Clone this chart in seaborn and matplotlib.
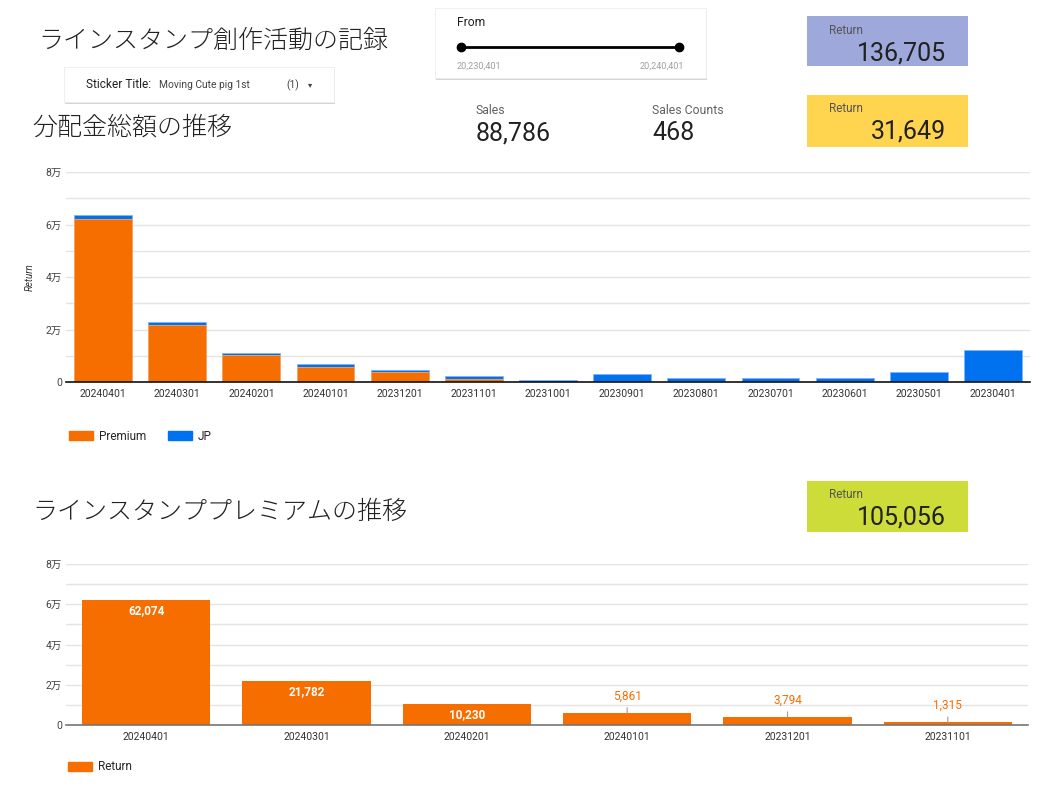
import matplotlib
matplotlib.use("Agg")
import pandas as pd
import matplotlib.pyplot as plt
import seaborn as sns
from matplotlib.patches import Rectangle, Patch
from matplotlib.lines import Line2D
from matplotlib.ticker import MultipleLocator, FuncFormatter

W, H = 1064, 789

# monthly distribution amounts
months = ["20240401", "20240301", "20240201", "20240101", "20231201", "20231101",
          "20231001", "20230901", "20230801", "20230701", "20230601", "20230501", "20230401"]
premium = [62074, 21782, 10230, 5861, 3794, 1315, 0, 0, 0, 0, 0, 0, 0]
jp = [1600, 1100, 1000, 1150, 650, 800, 950, 3000, 1700, 1700, 1700, 4000, 12299]

premium_months = months[:6]
premium_return = premium[:6]

# scorecards
total_return = "136,705"
jp_return = "31,649"
premium_total = "105,056"
sales = "88,786"
sales_counts = "468"
slider_from = "20,230,401"
slider_to = "20,240,401"
sticker_title = "Moving Cute pig 1st"

ORANGE = "#f66d00"
BLUE = "#0072f0"
GRID = "#e4e4e4"
TXT = "#212121"

sns.set_theme(style="white")
plt.rcParams["font.family"] = ["Roboto", "Noto Sans CJK JP", "DejaVu Sans"]
CJK = ["Noto Sans CJK JP", "DejaVu Sans"]


def fx(x):
    return x / W


def fy(y):
    return 1 - y / H


def box(fig, x0, y0, x1, y1, color, shadow=False):
    if shadow:
        fig.add_artist(Rectangle((fx(x0 + 1), fy(y1 + 2)), (x1 - x0) / W, (y1 - y0) / H,
                                 transform=fig.transFigure, facecolor="#d5d5d5",
                                 edgecolor="none", zorder=1))
        fig.add_artist(Rectangle((fx(x0), fy(y1)), (x1 - x0) / W, (y1 - y0) / H,
                                 transform=fig.transFigure, facecolor=color,
                                 edgecolor="#ececec", lw=0.6, zorder=2))
    else:
        fig.add_artist(Rectangle((fx(x0), fy(y1)), (x1 - x0) / W, (y1 - y0) / H,
                                 transform=fig.transFigure, facecolor=color,
                                 edgecolor="none", zorder=2))


def man_fmt(v, pos):
    return "0" if v == 0 else f"{int(v / 10000)}万"


def style_axis(ax, spine_color):
    ax.set_ylim(0, 80000)
    ax.yaxis.set_major_locator(MultipleLocator(20000))
    ax.yaxis.set_minor_locator(MultipleLocator(10000))
    ax.yaxis.set_major_formatter(FuncFormatter(man_fmt))
    ax.grid(axis="y", which="both", color=GRID, lw=1)
    ax.set_axisbelow(True)
    for s in ["top", "right", "left"]:
        ax.spines[s].set_visible(False)
    ax.spines["bottom"].set_color(spine_color)
    ax.spines["bottom"].set_linewidth(1.2)
    ax.tick_params(axis="both", length=0)
    ax.tick_params(axis="y", labelsize=7.5, labelcolor="#424242", pad=3)
    ax.tick_params(axis="x", labelsize=7.5, labelcolor="#333333", pad=5)
    ax.set_xlabel("")


fig = plt.figure(figsize=(W / 100, H / 100), dpi=100)

# ---- stacked chart: Premium + JP ----
ax1 = fig.add_axes([fx(66), fy(382), 964 / W, 210 / H])
df = pd.DataFrame({"month": months, "Premium": premium, "JP": jp})
df["total"] = df["Premium"] + df["JP"]
sns.barplot(data=df, x="month", y="total", color=BLUE, saturation=1, width=0.78,
            errorbar=None, edgecolor="#7fb4f6", linewidth=0.6, ax=ax1)
sns.barplot(data=df, x="month", y="Premium", color=ORANGE, saturation=1, width=0.78,
            errorbar=None, edgecolor="#f9a868", linewidth=0.6, ax=ax1)
style_axis(ax1, "#111111")
ax1.set_ylabel("Return", fontstyle="italic", fontsize=7, color="#333333")
ax1.yaxis.set_label_coords(-0.032, 0.5)
ax1.legend(handles=[Patch(color=ORANGE, label="Premium"), Patch(color=BLUE, label="JP")],
           loc="center left", bbox_to_anchor=(fx(69), fy(436)), bbox_transform=fig.transFigure,
           ncol=2, frameon=False, fontsize=8.5, handlelength=2.0, handleheight=0.9,
           handletextpad=0.5, columnspacing=1.9, borderpad=0, borderaxespad=0)

# ---- premium only chart ----
ax2 = fig.add_axes([fx(66), fy(725), 962 / W, 161 / H])
sns.barplot(x=premium_months, y=premium_return, color=ORANGE, saturation=1, width=0.8,
            errorbar=None, linewidth=0, ax=ax2)
style_axis(ax2, "#757575")
ax2.set_ylabel("")
for bar, v in zip(ax2.patches, premium_return):
    cx = bar.get_x() + bar.get_width() / 2
    if v >= 10000:
        ax2.annotate(f"{v:,}", (cx, v), xytext=(0, -3), textcoords="offset points",
                     ha="center", va="top", color="white", fontweight="bold", fontsize=8.5)
    else:
        ax2.annotate(f"{v:,}", (cx, v), xytext=(0, 12), textcoords="offset points",
                     ha="center", va="center", color=ORANGE, fontsize=8.5,
                     arrowprops=dict(arrowstyle="-", color="#9e9e9e", lw=0.8,
                                     shrinkA=1, shrinkB=0))
ax2.legend(handles=[Patch(color=ORANGE, label="Return")],
           loc="center left", bbox_to_anchor=(fx(68), fy(767)), bbox_transform=fig.transFigure,
           frameon=False, fontsize=8.5, handlelength=2.0, handleheight=0.9,
           handletextpad=0.5, borderpad=0, borderaxespad=0)

# ---- titles ----
fig.text(fx(38), fy(41), "ラインスタンプ創作活動の記録", fontsize=18, family=CJK,
         fontweight="light", color=TXT, va="center")
fig.text(fx(32), fy(127), "分配金総額の推移", fontsize=18, family=CJK,
         fontweight="light", color=TXT, va="center")
fig.text(fx(32), fy(512), "ラインスタンププレミアムの推移", fontsize=18, family=CJK,
         fontweight="light", color=TXT, va="center")

# ---- sticker title filter ----
box(fig, 64, 67, 334, 102, "white", shadow=True)
fig.text(fx(86), fy(85), "Sticker Title:", fontsize=8.6, color=TXT, va="center", zorder=3)
fig.text(fx(159), fy(85), sticker_title, fontsize=7.4, color="#424242", va="center", zorder=3)
fig.text(fx(286), fy(85), "(1)", fontsize=7.4, color="#424242", va="center", zorder=3)
fig.text(fx(308), fy(85), "▾", fontsize=6, color="#424242", va="center", zorder=3,
         family=["DejaVu Sans"])

# ---- date slider ----
box(fig, 435, 8, 706, 78, "white", shadow=True)
fig.text(fx(457), fy(23), "From", fontsize=8.7, color=TXT, va="center", zorder=3)
fig.add_artist(Line2D([fx(461), fx(679)], [fy(47), fy(47)], transform=fig.transFigure,
                      color="black", lw=2, marker="o", markersize=6, zorder=3))
fig.text(fx(457), fy(66), slider_from, fontsize=6.6, color="#9e9e9e", va="center", zorder=3)
fig.text(fx(684), fy(66), slider_to, fontsize=6.6, color="#9e9e9e", va="center",
         ha="right", zorder=3)

# ---- scorecards ----
fig.text(fx(476), fy(110), "Sales", fontsize=8.8, color="#616161", va="center")
fig.text(fx(476), fy(133), sales, fontsize=18, color=TXT, va="center")
fig.text(fx(652), fy(110), "Sales Counts", fontsize=8.8, color="#616161", va="center")
fig.text(fx(652), fy(133), sales_counts, fontsize=18, color=TXT, va="center")

for (y0, y1, color, value) in [(16, 66, "#9fa8da", total_return),
                               (95, 147, "#ffd54f", jp_return),
                               (481, 532, "#cddc39", premium_total)]:
    box(fig, 807, y0, 968, y1, color)
    fig.text(fx(829), fy(y0 + 14), "Return", fontsize=8.5, color="#555555",
             va="center", zorder=3)
    fig.text(fx(946), fy(y0 + 37), value, fontsize=18, color=TXT, va="center",
             ha="right", zorder=3)

fig.savefig("out.png", dpi=100)
